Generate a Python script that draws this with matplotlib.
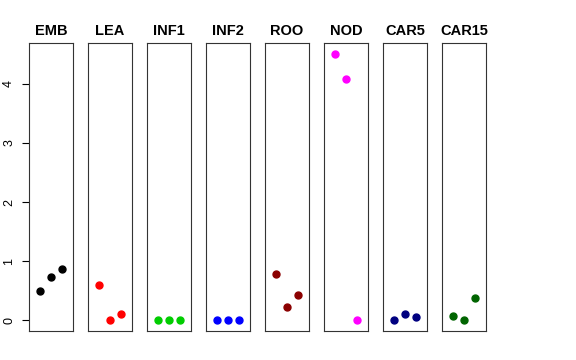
import matplotlib
matplotlib.use("Agg")
import matplotlib.pyplot as plt

plt.rcParams['font.family'] = ['Liberation Sans', 'DejaVu Sans']

tissues = ['EMB', 'LEA', 'INF1', 'INF2', 'ROO', 'NOD', 'CAR5', 'CAR15']
colors = ['black', 'red', '#00CD00', 'blue', '#8B0000', 'magenta', '#000080', '#006400']
reps = [1, 2, 3]
vals = [
    [0.49, 0.73, 0.86],
    [0.59, 0.00, 0.11],
    [0.00, 0.00, 0.00],
    [0.00, 0.00, 0.00],
    [0.78, 0.23, 0.43],
    [4.51, 4.08, 0.00],
    [0.00, 0.11, 0.05],
    [0.07, 0.00, 0.38],
]
yticks = [0, 1, 2, 3, 4]

W, H = 576, 360
fig = plt.figure(figsize=(W / 100, H / 100), dpi=100)

ymax = max(max(v) for v in vals)
pad = 0.04 * ymax
for i, (name, col, v) in enumerate(zip(tissues, colors, vals)):
    x0 = 29 + 59 * i
    ax = fig.add_axes([x0 / W, 29 / H, 44 / W, 288 / H])
    ax.plot(reps, v, 'o', color=col, ms=5, mec=col)
    ax.set_xlim(-0.05, 4)
    ax.set_ylim(-pad, ymax + pad)
    ax.set_xticks([])
    ax.set_title(name, fontsize=10.5, fontweight='bold', pad=6)
    for s in ax.spines.values():
        s.set_linewidth(0.8)
        s.set_color('#333333')
    if i == 0:
        ax.set_yticks(yticks)
        ax.set_yticklabels([str(t) for t in yticks], fontsize=9)
        ax.tick_params(axis='y', length=5, width=0.8, pad=5, labelrotation=90)
        for lab in ax.get_yticklabels():
            lab.set_va('center')
    else:
        ax.set_yticks([])

plt.savefig('out.png', dpi=100)
